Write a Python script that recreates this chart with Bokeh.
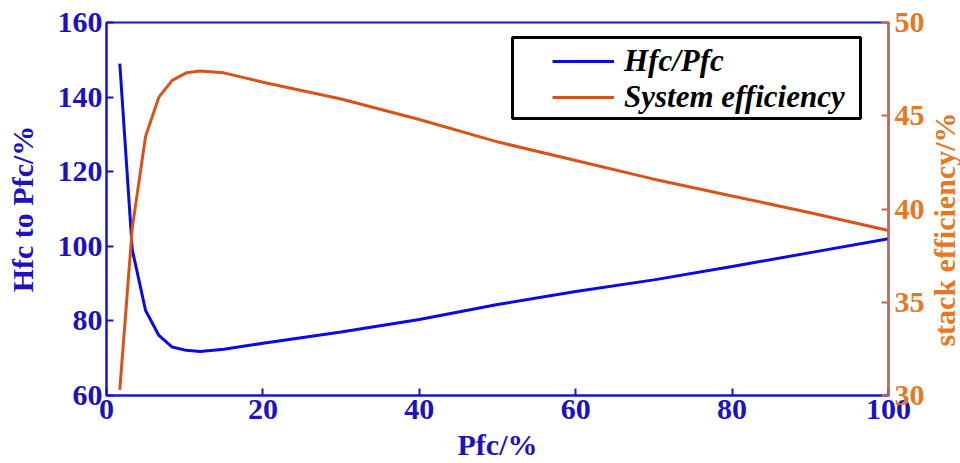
import math
from bokeh.plotting import figure
from bokeh.layouts import row
from bokeh.models import LinearAxis, Range1d, Legend, LegendItem, FixedTicker, BoxAnnotation, Label
from bokeh.embed import file_html
from bokeh.resources import INLINE

# Data
pfc = [1.7, 3.3, 5.0, 6.7, 8.4, 10.2, 12.0, 15.0, 20, 30, 40, 50, 60, 70, 80, 90, 100]
hfc_to_pfc = [149.0, 99.0, 82.8, 76.1, 73.0, 72.1, 71.8, 72.4, 74.0, 77.0, 80.4, 84.4, 87.9, 91.0, 94.6, 98.3, 102.0]
system_eff = [30.3, 39.0, 43.9, 46.0, 46.9, 47.3, 47.4, 47.3, 46.8, 45.9, 44.8, 43.6, 42.6, 41.6, 40.7, 39.8, 38.85]

x_ticks = [0, 20, 40, 60, 80, 100]
left_ticks = [60, 80, 100, 120, 140, 160]
right_ticks = [30, 35, 40, 45, 50]

FONT = "Liberation Serif"
BLUE_TXT = "#2010C0"
BLUE_AX = "#1414D2"
ORANGE_TXT = "#E87722"
ORANGE_AX = "#CC6A38"
BLUE_LINE = "#0A0AE6"
ORANGE_LINE = "#D95319"

p = figure(width=930, height=463, output_backend="svg", toolbar_location=None,
           x_range=Range1d(0, 100), y_range=Range1d(60, 160),
           min_border_left=106, min_border_right=42, min_border_top=22, min_border_bottom=68)
p.extra_y_ranges = {"eff": Range1d(30, 50)}
p.xgrid.visible = False
p.ygrid.visible = False
p.outline_line_color = BLUE_AX
p.outline_line_width = 2
p.background_fill_color = "white"
p.border_fill_color = "white"

r1 = p.line(pfc, hfc_to_pfc, line_color=BLUE_LINE, line_width=3)
r2 = p.line(pfc, system_eff, line_color=ORANGE_LINE, line_width=3, y_range_name="eff")

def style(ax, txt_color, ax_color, ticks):
    ax.ticker = FixedTicker(ticks=ticks)
    ax.minor_tick_line_color = None
    ax.major_tick_in = 7
    ax.major_tick_out = 0
    ax.major_tick_line_color = ax_color
    ax.major_tick_line_width = 2
    ax.axis_line_color = ax_color
    ax.axis_line_width = 2
    ax.major_label_text_font = FONT
    ax.major_label_text_font_style = "bold"
    ax.major_label_text_font_size = "30px"
    ax.major_label_text_color = txt_color
    ax.axis_label_text_font = FONT
    ax.axis_label_text_font_style = "bold"
    ax.axis_label_text_font_size = "30px"
    ax.axis_label_text_color = txt_color
    ax.major_label_standoff = 4

xa = p.xaxis[0]
style(xa, BLUE_TXT, BLUE_AX, x_ticks)
xa.axis_label = "Pfc/%"
xa.axis_label_standoff = 6

ya = p.yaxis[0]
style(ya, BLUE_TXT, BLUE_AX, left_ticks)
ya.axis_label = "Hfc to Pfc/%"
ya.axis_label_standoff = 16

ra = LinearAxis(y_range_name="eff")
style(ra, ORANGE_TXT, ORANGE_AX, right_ticks)
ra.major_label_standoff = 6
p.add_layout(ra, "right")

# legend frame
box = BoxAnnotation(left=512, right=860, top=37, bottom=118,
                    left_units="canvas", right_units="canvas",
                    top_units="canvas", bottom_units="canvas",
                    fill_color="white", fill_alpha=1,
                    line_color="black", line_width=3, line_alpha=1)
p.add_layout(box)

legend = Legend(items=[LegendItem(label="Hfc/Pfc", renderers=[r1]),
                       LegendItem(label="System efficiency", renderers=[r2])],
                location=(446, 280))
legend.label_text_font = FONT
legend.label_text_font_style = "bold italic"
legend.label_text_font_size = "31px"
legend.label_text_color = "black"
legend.glyph_width = 62
legend.border_line_color = None
legend.background_fill_alpha = 0
legend.padding = 6
legend.spacing = 0
legend.margin = 0
legend.label_standoff = 10
p.add_layout(legend, "center")

# narrow strip on the right that carries the right axis title, reading bottom-to-top
p2 = figure(width=30, height=463, output_backend="svg", toolbar_location=None,
            x_range=Range1d(0, 30), y_range=Range1d(0, 463),
            x_axis_location=None, y_axis_location=None, min_border=0)
p2.xgrid.visible = False
p2.ygrid.visible = False
p2.outline_line_color = None
p2.background_fill_color = "white"
p2.border_fill_color = "white"
right_title = Label(x=14, y=206, text="stack efficiency/%", angle=math.pi / 2,
                    text_align="center", text_baseline="middle",
                    text_font=FONT, text_font_style="bold",
                    text_font_size="30px", text_color=ORANGE_TXT)
p2.add_layout(right_title)

layout = row(p, p2, spacing=0)
open("out.html", "w").write(file_html(layout, INLINE))
